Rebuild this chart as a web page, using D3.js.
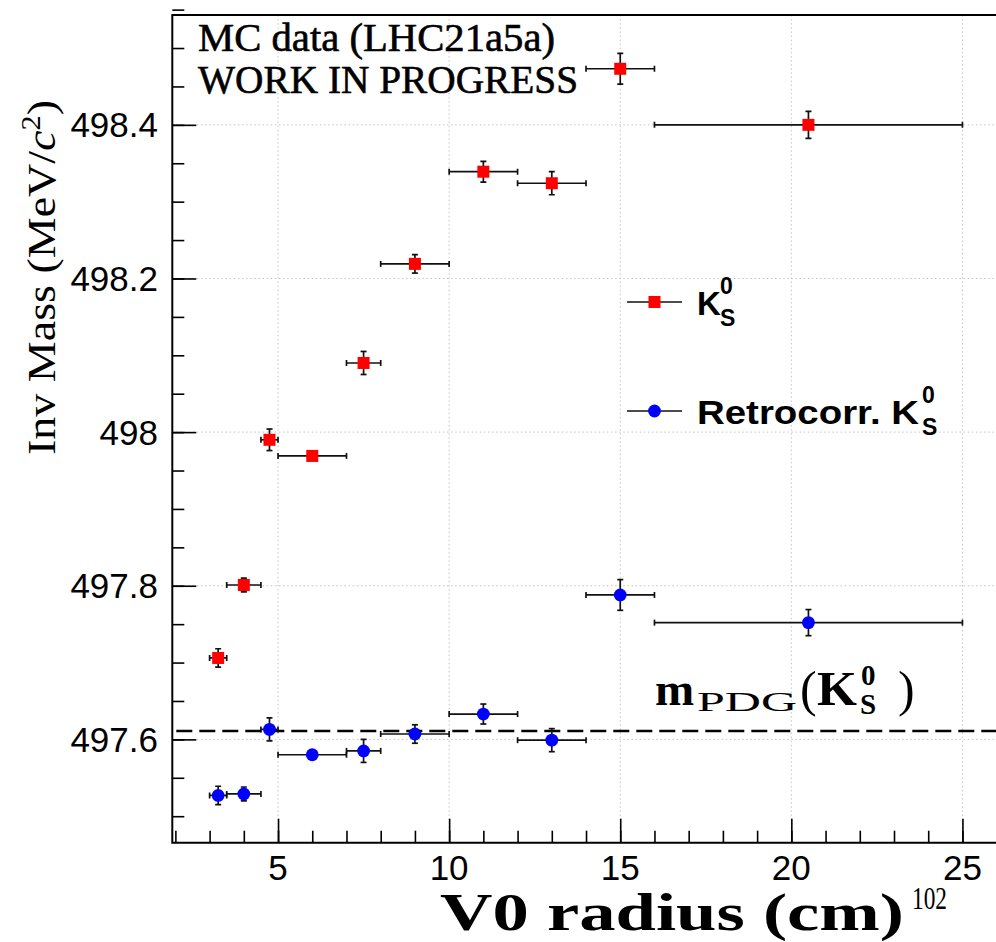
<!DOCTYPE html>
<html>
<head>
<meta charset="utf-8">
<script src="https://cdn.jsdelivr.net/npm/d3@7"></script>
<style>
  html, body { margin: 0; padding: 0; background: #fff; }
  svg { display: block; }
</style>
</head>
<body>
<svg id="chart" width="996" height="942"></svg>
<script>
// V0 radius bins (cm): centre and half-width
const binCenter = [3.25, 4, 4.75, 6, 7.5, 9, 11, 13, 15, 20.5];
const binHalf   = [0.25, 0.5, 0.25, 1, 0.5, 1, 1, 1, 1, 4.5];

// K0S invariant mass (MeV/c^2) and uncertainty
const ksMass = [497.706, 497.801, 497.990, 497.969, 498.090, 498.219, 498.339, 498.324, 498.473, 498.400];
const ksErr  = [0.012, 0.009, 0.014, 0.005, 0.015, 0.012, 0.0135, 0.015, 0.020, 0.0175];

// Retro-corrected K0S invariant mass (MeV/c^2) and uncertainty
const rcMass = [497.527, 497.529, 497.613, 497.580, 497.585, 497.607, 497.633, 497.599, 497.788, 497.752];
const rcErr  = [0.012, 0.009, 0.015, 0.005, 0.015, 0.012, 0.013, 0.015, 0.020, 0.017];

const pdgMass = 497.611;

const xMajor = [5, 10, 15, 20, 25];
const xMinor = d3.range(2, 27, 1);
const yMajor = [497.6, 497.8, 498.0, 498.2, 498.4];
const yMajorLabels = ["497.6", "497.8", "498", "498.2", "498.4"];
const yMinor = d3.range(497.5, 498.55, 0.05).map(v => +v.toFixed(2));

const svg = d3.select("#chart");
const W = 996, H = 942;
const L = 172.3, T = 15, B = 842.7;

const x = d3.scaleLinear().domain([1.91, 26.2]).range([L, L + 24.29 * 34.22]);
const y = d3.scaleLinear().domain([497.4655, 498.543]).range([B, T]);
const R = W + 6;

const plot = svg.append("g");
plot.append("clipPath").attr("id", "clip")
  .append("rect").attr("x", L).attr("y", T).attr("width", R - L).attr("height", B - T);

// grid
const grid = plot.append("g").attr("stroke", "#c4c4c4").attr("stroke-width", 1)
  .attr("stroke-dasharray", "1.5,2.6");
grid.selectAll(".gx").data(xMajor).join("line")
  .attr("x1", d => x(d)).attr("x2", d => x(d)).attr("y1", T).attr("y2", B);
grid.selectAll(".gy").data(yMajor).join("line")
  .attr("x1", L).attr("x2", R).attr("y1", d => y(d)).attr("y2", d => y(d));

// PDG reference line
plot.append("line")
  .attr("x1", L + 4).attr("x2", R).attr("y1", y(pdgMass)).attr("y2", y(pdgMass))
  .attr("stroke", "#000").attr("stroke-width", 2.6).attr("stroke-dasharray", "16,7");

// axes: ticks pointing into the frame
const xAxisMinor = d3.axisTop(x).tickValues(xMinor).tickSize(12).tickFormat("");
const xAxisMajor = d3.axisTop(x).tickValues(xMajor).tickSize(24).tickFormat("");
const yAxisMinor = d3.axisRight(y).tickValues(yMinor).tickSize(12).tickFormat("");
const yAxisMajor = d3.axisRight(y).tickValues(yMajor).tickSize(24).tickFormat("");

function styleAxis(g) {
  g.select(".domain").remove();
  g.selectAll(".tick line").attr("stroke", "#000").attr("stroke-width", 1.6);
}
svg.append("g").attr("transform", `translate(0,${B})`).call(xAxisMinor).call(styleAxis);
svg.append("g").attr("transform", `translate(0,${B})`).call(xAxisMajor).call(styleAxis);
svg.append("g").attr("transform", `translate(${L},0)`).call(yAxisMinor).call(styleAxis);
svg.append("g").attr("transform", `translate(${L},0)`).call(yAxisMajor).call(styleAxis);

// frame
svg.append("path")
  .attr("d", `M${R},${T}H${L}V${B}H${R}`)
  .attr("fill", "none").attr("stroke", "#000").attr("stroke-width", 2);

// tick labels
const sans = "'Liberation Sans', Arial, Helvetica, sans-serif";
const serif = "'Liberation Serif', 'Times New Roman', Times, serif";
svg.append("g").selectAll("text").data(xMajor).join("text")
  .attr("x", d => x(d)).attr("y", 880)
  .attr("text-anchor", "middle")
  .attr("font-family", sans).attr("font-size", 35)
  .text(d => d);
svg.append("g").selectAll("text").data(yMajor).join("text")
  .attr("x", 158).attr("y", d => y(d) + 12.5)
  .attr("text-anchor", "end")
  .attr("font-family", sans).attr("font-size", 35)
  .text((d, i) => yMajorLabels[i]);

// axis titles
svg.append("text")
  .attr("x", 440).attr("y", 930)
  .attr("font-family", serif).attr("font-weight", "bold").attr("font-size", 52)
  .attr("textLength", 464).attr("lengthAdjust", "spacingAndGlyphs")
  .text("V0 radius (cm)");
svg.append("text")
  .attr("x", 912).attr("y", 909)
  .attr("font-family", serif).attr("font-size", 31)
  .attr("textLength", 35).attr("lengthAdjust", "spacingAndGlyphs")
  .text("102");

const yt = svg.append("text")
  .attr("transform", "translate(55,455) rotate(-90)")
  .attr("font-family", serif).attr("font-size", 41)
  .attr("textLength", 355).attr("lengthAdjust", "spacingAndGlyphs");
yt.append("tspan").text("Inv Mass (MeV/");
yt.append("tspan").attr("font-style", "italic").text("c");
yt.append("tspan").attr("dy", -15).attr("font-size", 27).text("2");
yt.append("tspan").attr("dy", 15).text(")");

// header text
const head = svg.append("g").attr("font-family", serif).attr("font-size", 40)
  .attr("stroke", "#000").attr("stroke-width", 0.6);
head.append("text").attr("x", 198).attr("y", 51)
  .attr("textLength", 357).attr("lengthAdjust", "spacingAndGlyphs")
  .text("MC data (LHC21a5a)");
head.append("text").attr("x", 198).attr("y", 93)
  .attr("textLength", 380).attr("lengthAdjust", "spacingAndGlyphs")
  .text("WORK IN PROGRESS");

// error bars and markers
function drawSeries(vals, errs, color, shape) {
  const g = plot.append("g").attr("clip-path", "url(#clip)");
  const data = binCenter.map((c, i) => ({ c, h: binHalf[i], v: vals[i], e: errs[i] }));
  const eb = g.append("g").attr("stroke", "#111").attr("stroke-width", 1.7);
  eb.selectAll(".h").data(data).join("line")
    .attr("x1", d => x(d.c - d.h)).attr("x2", d => x(d.c + d.h))
    .attr("y1", d => y(d.v)).attr("y2", d => y(d.v));
  eb.selectAll(".v").data(data).join("line")
    .attr("x1", d => x(d.c)).attr("x2", d => x(d.c))
    .attr("y1", d => y(d.v - d.e)).attr("y2", d => y(d.v + d.e));
  const caps = [];
  data.forEach(d => {
    caps.push({ x1: x(d.c - d.h), x2: x(d.c - d.h), y1: y(d.v) - 3, y2: y(d.v) + 3 });
    caps.push({ x1: x(d.c + d.h), x2: x(d.c + d.h), y1: y(d.v) - 3, y2: y(d.v) + 3 });
    caps.push({ x1: x(d.c) - 3, x2: x(d.c) + 3, y1: y(d.v - d.e), y2: y(d.v - d.e) });
    caps.push({ x1: x(d.c) - 3, x2: x(d.c) + 3, y1: y(d.v + d.e), y2: y(d.v + d.e) });
  });
  eb.selectAll(".cap").data(caps).join("line")
    .attr("x1", d => d.x1).attr("x2", d => d.x2).attr("y1", d => d.y1).attr("y2", d => d.y2);
  if (shape === "square") {
    g.selectAll(".m").data(data).join("rect")
      .attr("x", d => x(d.c) - 6).attr("y", d => y(d.v) - 6)
      .attr("width", 12).attr("height", 12).attr("fill", color);
  } else {
    g.selectAll(".m").data(data).join("circle")
      .attr("cx", d => x(d.c)).attr("cy", d => y(d.v)).attr("r", 6.4).attr("fill", color);
  }
}
drawSeries(ksMass, ksErr, "#ff0000", "square");
drawSeries(rcMass, rcErr, "#0000ff", "circle");

// legend
const leg = svg.append("g");
const legRows = [
  { y: 302, color: "#ff0000", shape: "square", main: "K", tl: null },
  { y: 411, color: "#0000ff", shape: "circle", main: "Retrocorr. K", tl: 222 }
];
legRows.forEach(r => {
  leg.append("line").attr("x1", 627).attr("x2", 682).attr("y1", r.y).attr("y2", r.y)
    .attr("stroke", "#111").attr("stroke-width", 1.7);
  if (r.shape === "square") {
    leg.append("rect").attr("x", 654.5 - 6).attr("y", r.y - 6).attr("width", 12).attr("height", 12).attr("fill", r.color);
  } else {
    leg.append("circle").attr("cx", 654.5).attr("cy", r.y).attr("r", 6.4).attr("fill", r.color);
  }
  const t = leg.append("text").attr("x", 697).attr("y", r.y + 13)
    .attr("font-family", sans).attr("font-weight", "bold").attr("font-size", 33)
    .text(r.main);
  if (r.tl) t.attr("textLength", r.tl).attr("lengthAdjust", "spacingAndGlyphs");
  const ex = r.tl ? 697 + r.tl + 3 : 720;
  leg.append("text").attr("x", ex).attr("y", r.y - 8)
    .attr("font-family", sans).attr("font-weight", "bold").attr("font-size", 23).text("0");
  leg.append("text").attr("x", ex).attr("y", r.y + 24)
    .attr("font-family", sans).attr("font-weight", "bold").attr("font-size", 23).text("S");
});

// PDG mass label
const pl = svg.append("g").attr("font-family", serif);
pl.append("text").attr("x", 655).attr("y", 705).attr("font-weight", "bold").attr("font-size", 47).text("m");
pl.append("text").attr("x", 697).attr("y", 711).attr("font-size", 27)
  .attr("textLength", 100).attr("lengthAdjust", "spacingAndGlyphs").text("PDG");
pl.append("text").attr("x", 800).attr("y", 706).attr("font-size", 50).text("(");
pl.append("text").attr("x", 817).attr("y", 705).attr("font-weight", "bold").attr("font-size", 49)
  .attr("textLength", 40).attr("lengthAdjust", "spacingAndGlyphs").text("K");
pl.append("text").attr("x", 861).attr("y", 685).attr("font-weight", "bold").attr("font-size", 29).text("0");
pl.append("text").attr("x", 860).attr("y", 714).attr("font-weight", "bold").attr("font-size", 29).text("S");
pl.append("text").attr("x", 898).attr("y", 706).attr("font-size", 50).text(")");
</script>
</body>
</html>
